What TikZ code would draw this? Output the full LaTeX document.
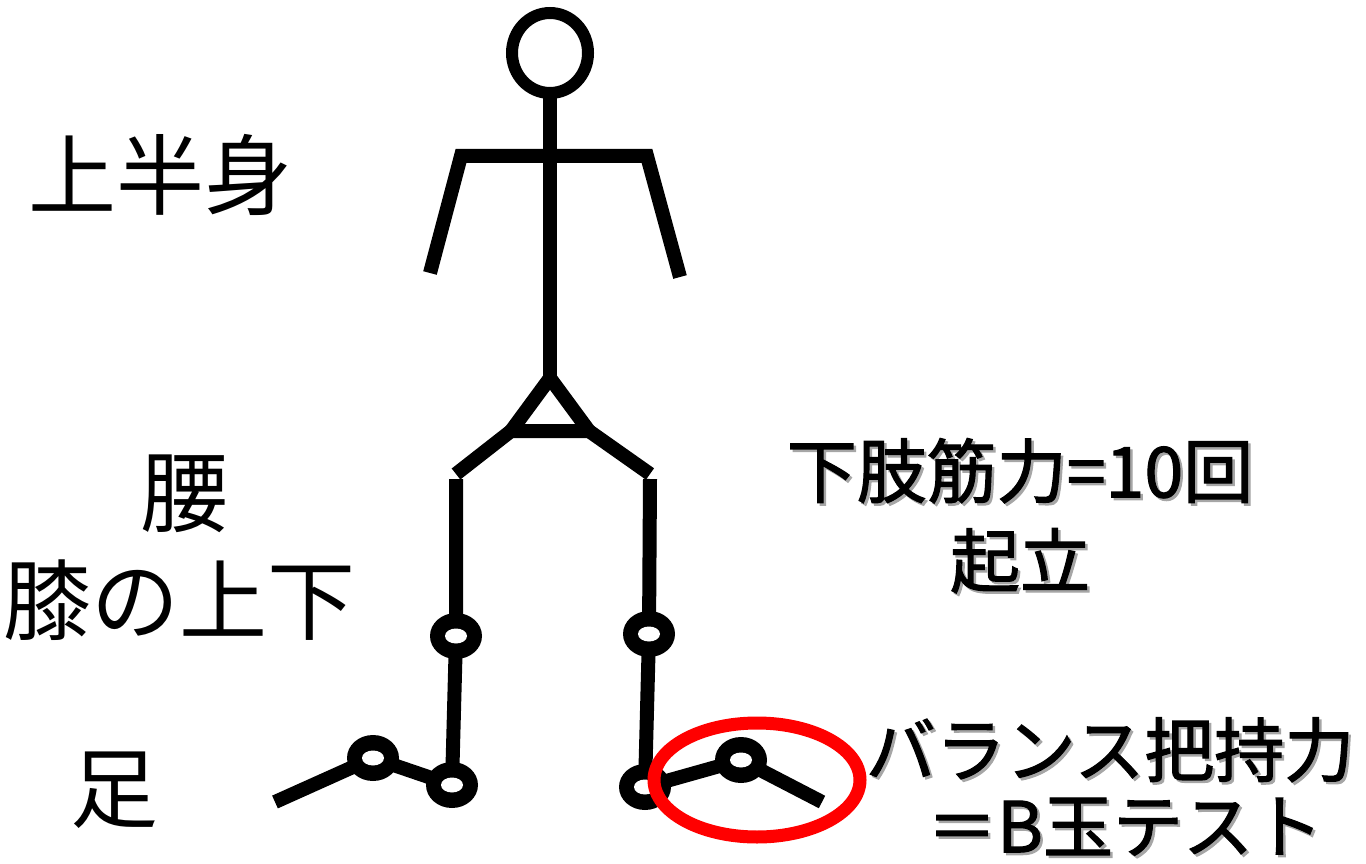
\documentclass[tikz,border=0pt]{standalone}
\usepackage{fontspec}
\newfontfamily\jpfont{Noto Sans CJK JP}
\newfontfamily\jpmedium[FakeBold=1.6]{Noto Sans CJK JP}
% text with a soft grey drop shadow, kept in a single box
\newcommand{\shadowed}[1]{%
  \makebox[0pt][l]{\hspace{2.5pt}\raisebox{-2.5pt}{\textcolor{black!35}{#1}}}#1}
\begin{document}
\begin{tikzpicture}[x=1pt,y=-1pt,
  limb/.style={line width=14pt,line cap=butt,line join=miter},
  thinlabel/.style={inner sep=0pt,font=\jpfont\fontsize{88}{96}\selectfont},
  boldlabel/.style={inner sep=0pt,font=\jpmedium\fontsize{70}{78}\selectfont},
  markring/.style={draw=red,line width=13pt}]
\useasboundingbox (0,0) rectangle (1366,864);

% joint positions
\coordinate (head) at (550,53);
\coordinate (neck) at (550,93);
\coordinate (pelvis) at (550,378);
\coordinate (hipL) at (511,431);
\coordinate (hipR) at (589,431);
\coordinate (thighL) at (456,474);
\coordinate (thighR) at (650,474);
\coordinate (kneeL) at (456,636);
\coordinate (kneeR) at (649,634);
\coordinate (ankleL) at (452,785);
\coordinate (ankleR) at (645,787);
\coordinate (footL) at (373,758);
\coordinate (footR) at (741,760);
\coordinate (toeL) at (275,802);
\coordinate (toeR) at (822,802);
\coordinate (handL) at (430,273);
\coordinate (handR) at (680,277);
\coordinate (shoulderL) at (461,156);
\coordinate (shoulderR) at (647,156);

% head
\draw[line width=12pt] (head) ellipse [x radius=38,y radius=40];

% spine, shoulders and arms
\draw[limb] (neck) -- (pelvis);
\draw[limb] (handL) -- (shoulderL) -- (shoulderR) -- (handR);

% pelvis triangle and hips
\draw[limb] (pelvis) -- (hipL) -- (hipR) -- cycle;
\draw[limb] (hipL) -- (thighL);
\draw[limb] (hipR) -- (thighR);

% legs
\draw[limb] (456,479) -- (kneeL) -- (ankleL);
\draw[limb] (650,479) -- (kneeR) -- (ankleR);

% feet
\draw[limb] (ankleL) -- (footL) -- (toeL);
\draw[limb] (ankleR) -- (footR) -- (toeR);

% joint rings
\foreach \j in {kneeL,kneeR,ankleL,ankleR,footL,footR}{
  \fill[black] (\j) ellipse [x radius=26,y radius=23];
  \fill[white] (\j) ellipse [x radius=11,y radius=7.5];
}

% highlighted foot
\draw[markring] (757,780) ellipse [x radius=103,y radius=57];

% body part labels
\node[thinlabel] (upper) at (160,175) {上半身};
\node[thinlabel] (waist) at (184,494) {腰};
\node[thinlabel] (knee) at (180,600) {膝の上下};
\node[thinlabel] (foot) at (114,790) {足};

% test labels
\node[boldlabel] (legs) at (1020,472) {\shadowed{下肢筋力=10回}};
\node[boldlabel] (stand) at (1020,562) {\shadowed{起立}};
\node[boldlabel] (balance) at (1110,751) {\shadowed{バランス把持力}};
\node[boldlabel] (marble) at (1125,828) {\shadowed{＝B玉テスト}};
\end{tikzpicture}
\end{document}
